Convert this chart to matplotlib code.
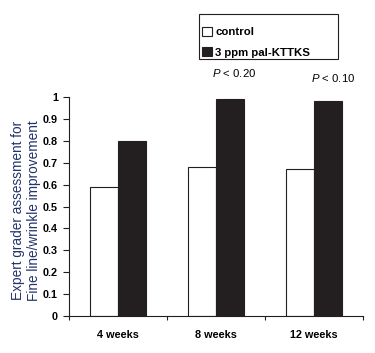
import matplotlib
matplotlib.use("Agg")
import matplotlib.pyplot as plt
from matplotlib.patches import Patch, Rectangle
import numpy as np

categories = ["4 weeks", "8 weeks", "12 weeks"]
control = [0.59, 0.68, 0.67]
treatment = [0.80, 0.99, 0.98]
series_names = ["control", "3 ppm pal-KTTKS"]
p_labels = ["", "< 0.20", "< 0.10"]
yticks = [0, 0.1, 0.2, 0.3, 0.4, 0.5, 0.6, 0.7, 0.8, 0.9, 1]
ytick_labels = ["0", "0.1", "0.2", "0.3", "0.4", "0.5", "0.6", "0.7", "0.8", "0.9", "1"]

plt.rcParams['font.family'] = ['Liberation Sans', 'DejaVu Sans']
plt.rcParams['mathtext.fontset'] = 'custom'
plt.rcParams['mathtext.it'] = 'Liberation Sans:italic'
plt.rcParams['mathtext.rm'] = 'Liberation Sans'

fig = plt.figure(figsize=(3.75, 3.53), dpi=100)
ax = fig.add_axes([0.184, 0.105, 0.784, 0.620])

x = np.arange(len(categories))
w = 0.286
dark = "#231f20"
ax.bar(x - w/2, control, width=w, color="white", edgecolor=dark, linewidth=0.8)
ax.bar(x + w/2, treatment, width=w, color=dark, edgecolor=dark, linewidth=0.8)

ax.set_xlim(-0.5, len(categories) - 0.5)
ax.set_ylim(0, 1)
ax.set_xticks(np.arange(len(categories) + 1) - 0.5)
ax.set_xticklabels([])
ax.set_xticks(x, minor=True)
ax.set_xticklabels(categories, minor=True, fontweight="bold", fontsize=7.8)
ax.tick_params(axis="x", which="minor", length=0, pad=10)
ax.tick_params(axis="x", which="major", length=3, direction="out", width=0.8, color=dark)
ax.set_yticks(yticks)
ax.set_yticklabels(ytick_labels, fontweight="bold", fontsize=7.8)
ax.tick_params(axis="y", length=4, direction="out", width=0.8, color=dark, pad=4)
for s in ["top", "right"]:
    ax.spines[s].set_visible(False)
for s in ["left", "bottom"]:
    ax.spines[s].set_color(dark)
    ax.spines[s].set_linewidth(0.8)

ax.set_ylabel("Expert grader assessment for\nFine line/wrinkle improvement",
              fontsize=9.8, color="#23346a", linespacing=1.15)
ax.yaxis.set_label_coords(-0.095, 0.48)

p_offsets = [0, 0.12, 0.107]
p_shift = [0, 0.19, 0.20]
for i, lab in enumerate(p_labels):
    if lab:
        ax.text(x[i] + p_shift[i], treatment[i] + p_offsets[i],
                r"$\it{P}$ " + lab, ha="center", va="center", fontsize=8.2,
                clip_on=False)

handles = [Patch(facecolor="white", edgecolor=dark, linewidth=0.8),
           Patch(facecolor=dark, edgecolor=dark, linewidth=0.8)]
leg = fig.legend(handles, series_names, loc="upper left",
                 bbox_to_anchor=(202/375, 1 - 27/353), frameon=False,
                 handlelength=0.85, handleheight=0.85,
                 handletextpad=0.3, borderpad=0, labelspacing=0.85,
                 prop={"weight": "bold", "size": 8.2}, borderaxespad=0)
fig.patches.append(Rectangle((199/375, 1 - 59/353), 139/375, 45/353,
                             transform=fig.transFigure, fill=False,
                             edgecolor=dark, linewidth=0.8))

fig.savefig("out.png", dpi=100)
